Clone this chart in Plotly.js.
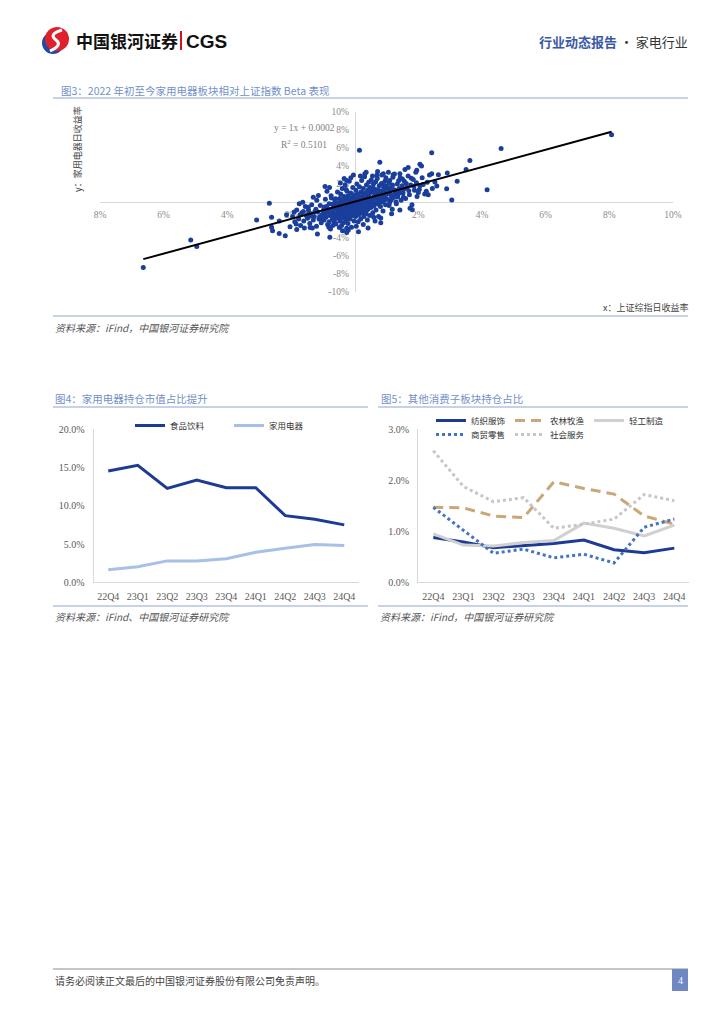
<!DOCTYPE html>
<html><head><meta charset="utf-8">
<script src="https://cdn.plot.ly/plotly-3.0.1.min.js"></script>
<style>html,body{margin:0;padding:0;background:#fff;}#page{width:724px;height:1024px;}</style>
</head><body><div id="page"></div>
<script>
// ---------- Figure 3: daily returns (percent) ----------
const dailyPairs = [
 [-6.64,-7.28],[-5.15,-4.22],[-4.96,-4.94],[-2.68,-0.13],[-3.08,-2.0],[-2.61,-1.7],[-2.61,-2.8],[-2.58,-3.2],
 [-2.37,-3.5],[-2.18,-3.74],[-2.37,-2.1],[-2.14,-1.43],[-2.03,-2.74],[-1.82,-3.05],[-1.74,-0.2],[-1.63,-0.02],
 [-1.61,-1.05],[-1.46,-0.58],[-1.40,-2.82],[-1.17,-3.56],[-1.30,0.54],[-1.14,0.73],[-0.93,1.73],[-0.78,-3.93],
 [-0.48,-2.82],[-0.25,-2.92],[-0.15,-1.77],[0.15,5.75],[-0.04,3.0],[-0.25,2.4],[0.79,4.42],[0.32,3.15],
 [0.90,3.15],[1.21,3.04],[1.42,3.15],[8.07,7.47],[4.60,5.94],[2.42,5.48],[3.62,4.60],[2.05,4.2],
 [2.10,4.0],[1.68,3.82],[1.95,3.52],[2.42,3.15],[2.63,3.04],[2.91,3.22],[3.50,3.60],[3.22,2.31],
 [2.52,2.21],[2.58,1.77],[2.89,1.47],[2.31,0.80],[3.05,0.22],[4.16,1.36],[1.81,-0.85],[0.82,-1.77],
 [2.03,1.40],[1.53,0.54],[-0.25,-3.4],
 [-1.95,-1.6],[-1.88,-2.2],[-1.82,-0.9],[-1.76,-1.9],[-1.7,-2.6],[-1.66,-1.2],[-1.6,-2.1],[-1.55,-0.5],
 [-1.52,-1.5],[-1.9,-1.1],[-1.58,-2.9],[-1.72,-1.45],[-1.84,-2.45],
 [-1.48,-1.8],[-1.45,-0.9],[-1.41,-2.4],[-1.38,-1.3],[-1.35,-0.3],[-1.3,-2.0],[-1.27,-1.6],[-1.22,-0.8],
 [-1.2,-2.7],[-1.16,-1.1],[-1.12,-1.9],[-1.08,-0.4],[-1.05,-2.3],[-1.02,-1.4],[-1.44,-1.2],[-1.33,-2.9],
 [-1.19,0.2],[-1.1,-1.65],[-1.25,-1.05],[-1.4,-1.55],
 [-0.98,-0.9],[-0.96,-2.0],[-0.94,-1.3],[-0.92,0.3],[-0.9,-1.7],[-0.88,-0.5],[-0.85,-2.5],[-0.83,-1.1],
 [-0.8,-0.2],[-0.78,-1.5],[-0.76,-3.0],[-0.74,0.7],[-0.72,-0.8],[-0.7,-1.9],[-0.68,-1.2],[-0.66,-0.4],
 [-0.64,-2.2],[-0.62,0.1],[-0.6,-1.4],[-0.58,-0.7],[-0.56,-1.8],[-0.54,1.1],[-0.52,-1.0],[-0.87,1.2],
 [-0.81,-2.8],[-0.69,-2.6],[-0.63,-1.65],[-0.57,-0.15],[-0.95,-0.55],[-0.73,0.45],[-0.79,1.6],[-0.59,-2.45],
 [-0.91,-1.55],[-0.67,-0.95],
 [-0.49,-0.6],[-0.48,-1.5],[-0.47,0.4],[-0.46,-2.1],[-0.45,-1.0],[-0.44,0.9],[-0.43,-0.2],[-0.42,-1.8],
 [-0.41,-2.6],[-0.4,-0.8],[-0.39,1.5],[-0.38,-1.3],[-0.37,0.1],[-0.36,-0.5],[-0.35,-2.3],[-0.34,0.6],
 [-0.33,-1.1],[-0.32,-1.7],[-0.31,-0.3],[-0.3,1.9],[-0.29,-0.9],[-0.28,-2.0],[-0.27,0.3],[-0.26,-1.4],
 [-0.25,-0.7],[-0.24,1.2],[-0.23,-0.1],[-0.22,-1.6],[-0.21,-2.4],[-0.2,0.7],[-0.19,-0.4],[-0.18,-1.2],
 [-0.17,2.3],[-0.16,-0.8],[-0.15,-1.9],[-0.14,0.2],[-0.13,-0.6],[-0.12,1.0],[-0.11,-1.0],[-0.1,-2.8],
 [-0.09,-0.2],[-0.08,0.5],[-0.07,-1.5],[-0.06,1.6],[-0.05,-0.5],[-0.04,-1.2],[-0.03,0.0],[-0.02,-2.1],
 [-0.01,0.8],[-0.45,2.1],[-0.33,2.6],[-0.2,-3.1],[-0.38,-3.2],[-0.12,2.7],[-0.27,1.4],
 [0.01,-0.7],[0.02,0.4],[0.03,-1.6],[0.04,1.3],[0.05,-0.3],[0.06,-1.1],[0.07,2.0],[0.08,0.1],
 [0.09,-0.9],[0.1,0.9],[0.11,-2.2],[0.12,-0.4],[0.13,0.6],[0.14,-1.4],[0.15,1.7],[0.16,-0.1],
 [0.17,-0.8],[0.18,0.3],[0.19,-1.9],[0.2,1.1],[0.21,-0.5],[0.22,2.4],[0.23,0.0],[0.24,-1.2],
 [0.25,0.7],[0.26,-0.2],[0.27,1.5],[0.28,-0.9],[0.29,-1.6],[0.3,0.4],[0.31,2.8],[0.32,-0.6],
 [0.33,1.0],[0.34,-0.1],[0.35,-1.3],[0.36,0.8],[0.37,1.9],[0.38,-0.4],[0.39,0.2],[0.4,-2.0],
 [0.41,1.3],[0.42,-0.8],[0.43,0.5],[0.44,2.2],[0.45,-0.3],[0.46,0.9],[0.47,-1.5],[0.48,1.6],
 [0.49,0.0],[0.05,-2.7],[0.18,2.9],[0.27,-2.5],[0.36,3.3],[0.42,-2.9],[0.12,-3.3],
 [0.51,-0.6],[0.53,1.1],[0.55,0.3],[0.57,-1.2],[0.59,2.0],[0.61,0.6],[0.63,-0.2],[0.65,1.4],
 [0.67,-0.9],[0.69,0.9],[0.71,2.6],[0.73,0.1],[0.75,-1.6],[0.77,1.8],[0.79,0.4],[0.81,-0.5],
 [0.83,1.2],[0.85,3.0],[0.87,0.7],[0.89,-1.0],[0.91,1.6],[0.93,0.2],[0.95,2.3],[0.97,-0.3],
 [0.99,0.9],[0.56,2.9],[0.64,-2.1],[0.72,3.4],[0.82,-2.3],[0.9,2.0],[0.6,-1.7],[0.76,1.05],
 [0.86,0.0],[0.54,-0.05],[0.68,0.25],[0.94,1.3],
 [1.02,0.3],[1.05,1.5],[1.08,-0.4],[1.1,2.4],[1.13,0.8],[1.16,-1.3],[1.19,1.9],[1.22,0.5],
 [1.25,3.1],[1.28,1.1],[1.31,-0.2],[1.34,2.0],[1.37,0.9],[1.4,1.5],[1.43,2.7],[1.46,0.2],
 [1.49,1.8],[1.06,3.3],[1.18,-0.8],[1.3,0.0],[1.42,-0.9],[1.12,1.2],
 [1.52,1.0],[1.56,2.3],[1.6,0.4],[1.64,1.6],[1.68,2.9],[1.72,0.8],[1.76,1.9],[1.8,-0.3],
 [1.84,2.5],[1.88,1.3],[1.92,3.3],[1.96,0.6],[1.58,3.6],[1.74,-0.7],
 [2.05,1.8],[2.12,2.7],[2.2,0.9],[2.28,2.2],[2.35,3.0],[2.44,1.5],
 [-0.95,-1.15],[-0.85,-0.75],[-0.75,-1.35],[-0.65,-0.55],[-0.55,-1.25],[-0.5,-0.35],[-0.42,-1.05],[-0.35,-0.85],
 [-0.3,-1.45],[-0.22,-0.55],[-0.15,-1.05],[-0.08,-0.75],[-0.02,-1.35],[0.04,-0.45],[0.1,-1.25],[0.16,-0.55],
 [0.22,-0.95],[0.3,-0.25],[0.36,-1.05],[0.44,-0.55],[0.52,0.05],[0.6,-0.45],[0.66,0.45],[0.74,-0.25],
 [0.8,0.75],[0.88,0.35],[0.96,0.55],[1.04,0.95],[1.15,0.25],[1.24,1.35],[-0.6,0.35],[-0.45,0.05],
 [-0.3,0.55],[-0.15,0.35],[0.0,0.15],[0.15,0.55],[0.3,0.85],[0.45,0.35],[0.62,1.05],[0.78,0.05],
 [-0.7,-0.25],[-1.0,-1.85],[-0.8,-2.2],[1.35,0.55],[1.1,-0.05],
 [0.58,1.55],[0.66,2.25],[0.74,1.35],[0.84,2.05],[0.92,1.05],[1.0,1.75],[1.08,2.15],[1.14,1.65],
 [1.2,2.75],[1.26,0.85],[1.33,1.25],[1.38,2.35],[1.45,1.05],[1.5,2.55],[1.55,1.45],[1.62,2.05],
 [1.7,1.25],[1.78,2.65],[1.86,1.75],[1.94,2.15],[2.0,1.05],[2.15,1.95],[2.25,1.2],[0.52,2.45],
 [0.7,3.0],[0.98,2.7],[1.16,0.55],[0.46,1.25]
];
const shRet = dailyPairs.map(p=>p[0]);
const jdRet = dailyPairs.map(p=>p[1]);
const trendX = [-6.64, 8.07];
const trendY = [-6.35, 7.80];
const f3XTickVals = [-8,-6,-4,-2,0,2,4,6,8,10];
const f3XTickText = ['8%','6%','4%','2%','0%','2%','4%','6%','8%','10%'];
const f3YTickVals = [10,8,6,4,2,0,-2,-4,-6,-8,-10];
const f3YTickText = ['10%','8%','6%','4%','2%','0%','-2%','-4%','-6%','-8%','-10%'];

// ---------- Figure 4 / 5 ----------
const quarters = ['22Q4','23Q1','23Q2','23Q3','23Q4','24Q1','24Q2','24Q3','24Q4'];
const food      = [14.55,15.30,12.27,13.37,12.37,12.37,8.71,8.23,7.51];
const appliance = [1.65,2.04,2.80,2.80,3.08,3.92,4.44,4.95,4.82];
const textile   = [0.88,0.79,0.68,0.72,0.76,0.83,0.64,0.58,0.67];
const agri      = [1.47,1.46,1.30,1.27,1.97,1.84,1.73,1.30,1.14];
const lightInd  = [0.95,0.73,0.71,0.78,0.82,1.16,1.06,0.91,1.12];
const retail    = [1.47,1.02,0.57,0.65,0.48,0.55,0.38,1.08,1.24];
const social    = [2.58,1.88,1.58,1.66,1.06,1.14,1.24,1.72,1.60];
const f4YTicks = [0,5,10,15,20];
const f4YTickText = ['0.0%','5.0%','10.0%','15.0%','20.0%'];
const f5YTicks = [0,1,2,3];
const f5YTickText = ['0.0%','1.0%','2.0%','3.0%'];

const W=724,H=1024;
const X=p=>p/W, Y=p=>1-p/H;
const CJK='"Noto Sans CJK SC", sans-serif';
const SERIF='"Liberation Serif", "Noto Sans CJK SC", serif';
const DARK='#1d3b94';

const traces = [
 {type:'scatter',mode:'markers',x:shRet,y:jdRet,xaxis:'x',yaxis:'y',showlegend:false,
  marker:{size:5,color:'#1a3e9c'}},
 {type:'scatter',mode:'lines',x:trendX,y:trendY,xaxis:'x',yaxis:'y',showlegend:false,
  line:{color:'#000',width:2}},
 {type:'scatter',mode:'lines',name:'食品饮料',x:quarters,y:food,xaxis:'x2',yaxis:'y2',legend:'legend',
  line:{color:DARK,width:3}},
 {type:'scatter',mode:'lines',name:'家用电器',x:quarters,y:appliance,xaxis:'x2',yaxis:'y2',legend:'legend',
  line:{color:'#a8bfe8',width:3}},
 {type:'scatter',mode:'lines',name:'纺织服饰',x:quarters,y:textile,xaxis:'x3',yaxis:'y3',legend:'legend2',
  line:{color:DARK,width:3}},
 {type:'scatter',mode:'lines',name:'农林牧渔',x:quarters,y:agri,xaxis:'x3',yaxis:'y3',legend:'legend2',
  line:{color:'#c9a777',width:3,dash:'10px,6px'}},
 {type:'scatter',mode:'lines',name:'轻工制造',x:quarters,y:lightInd,xaxis:'x3',yaxis:'y3',legend:'legend2',
  line:{color:'#d0d0d0',width:3}},
 {type:'scatter',mode:'lines',name:'商贸零售',x:quarters,y:retail,xaxis:'x3',yaxis:'y3',legend:'legend3',
  line:{color:'#4472c4',width:3,dash:'dot'}},
 {type:'scatter',mode:'lines',name:'社会服务',x:quarters,y:social,xaxis:'x3',yaxis:'y3',legend:'legend3',
  line:{color:'#c6c6c6',width:3,dash:'dot'}}
];

const gray='#d9d9d9';
const tickFont={family:SERIF,size:10,color:'#595959'};
const legFont={family:CJK,size:8.5,color:'#333'};
const layout = {
 width:W,height:H,margin:{l:0,r:0,t:0,b:0},paper_bgcolor:'#fff',plot_bgcolor:'rgba(0,0,0,0)',
 font:{family:CJK},
 xaxis:{domain:[X(100),X(673)],range:[-8,10],anchor:'free',position:Y(202),showgrid:false,zeroline:false,
  showline:true,linecolor:gray,linewidth:1,ticks:'',tickvals:f3XTickVals,ticktext:f3XTickText,
  tickfont:{family:SERIF,size:9.5,color:'#8a8a8a'},layer:'below traces',ticklabelstandoff:4,fixedrange:true},
 yaxis:{domain:[Y(292),Y(112)],range:[-10,10],anchor:'free',position:X(354.7),showgrid:false,zeroline:false,
  showline:true,linecolor:gray,linewidth:1,ticks:'',tickvals:f3YTickVals,ticktext:f3YTickText,
  tickfont:{family:SERIF,size:9.5,color:'#8a8a8a'},layer:'below traces',ticklabelstandoff:4,fixedrange:true},
 xaxis2:{domain:[X(93.5),X(359)],range:[-0.5,8.5],type:'category',anchor:'y2',showgrid:false,zeroline:false,
  showline:true,linecolor:gray,ticks:'',tickfont:tickFont,ticklabelstandoff:5},
 yaxis2:{domain:[Y(582.3),Y(429.3)],range:[0,20],anchor:'x2',showgrid:false,zeroline:false,
  showline:true,linecolor:gray,ticks:'',tickvals:f4YTicks,ticktext:f4YTickText,tickfont:tickFont,ticklabelstandoff:6},
 xaxis3:{domain:[X(418.2),X(689.4)],range:[-0.5,8.5],type:'category',anchor:'y3',showgrid:false,zeroline:false,
  showline:true,linecolor:gray,ticks:'',tickfont:tickFont,ticklabelstandoff:5},
 yaxis3:{domain:[Y(582.3),Y(429.3)],range:[0,3],anchor:'x3',showgrid:false,zeroline:false,
  showline:true,linecolor:gray,ticks:'',tickvals:f5YTicks,ticktext:f5YTickText,tickfont:tickFont,ticklabelstandoff:6},
 legend:{orientation:'h',x:X(130),y:Y(411),xanchor:'left',yanchor:'top',entrywidth:54,bgcolor:'rgba(0,0,0,0)',
  font:legFont,itemclick:false},
 legend2:{orientation:'h',x:X(431),y:Y(406),xanchor:'left',yanchor:'top',entrywidth:34,bgcolor:'rgba(0,0,0,0)',
  font:legFont,itemclick:false},
 legend3:{orientation:'h',x:X(431),y:Y(420),xanchor:'left',yanchor:'top',entrywidth:34,bgcolor:'rgba(0,0,0,0)',
  font:legFont,itemclick:false},
 shapes:[],annotations:[]
};

function hline(x0,x1,y,color,w){layout.shapes.push({type:'line',xref:'paper',yref:'paper',x0:X(x0),x1:X(x1),y0:Y(y),y1:Y(y),line:{color:color,width:w}});}
function txt(t,x,y,opt){layout.annotations.push(Object.assign({text:t,xref:'paper',yref:'paper',x:X(x),y:Y(y),
  showarrow:false,xanchor:'left',yanchor:'middle',font:{family:CJK,size:10,color:'#333'}},opt||{}));}

// header logo
layout.shapes.push({type:'circle',xref:'paper',yref:'paper',x0:X(42),x1:X(64),y0:Y(54),y1:Y(32),fillcolor:'#1f4aa8',line:{width:0}});
layout.shapes.push({type:'circle',xref:'paper',yref:'paper',x0:X(45),x1:X(69),y0:Y(51),y1:Y(27),fillcolor:'#e0202a',line:{width:0}});
layout.shapes.push({type:'path',xref:'paper',yref:'paper',
  path:`M${X(62)},${Y(30)} Q${X(48)},${Y(34)} ${X(56)},${Y(40)} Q${X(63)},${Y(45)} ${X(50)},${Y(51)}`,
  line:{color:'#fff',width:3}});
txt('<b>中国银河证券</b>',74,40,{font:{family:CJK,size:17,color:'#111'}});
layout.shapes.push({type:'line',xref:'paper',yref:'paper',x0:X(181),x1:X(181),y0:Y(31),y1:Y(50),line:{color:'#d6111b',width:2}});
txt('<b>CGS</b>',184,41,{font:{family:'"Liberation Sans", Arial, sans-serif',size:19,color:'#111'}});
txt('<span style="color:#3a5aa6"><b>行业动态报告</b></span> · 家电行业',690,41,{xanchor:'right',font:{family:CJK,size:13,color:'#333'}});

// figure 3 frame
txt('图3：2022 年初至今家用电器板块相对上证指数 Beta 表现',59,90,{font:{family:CJK,size:10.5,color:'#7390c8'}});
hline(53,688,98,'#8fa5d2',1.2);
txt('y = 1x + 0.0002',272,128,{font:{family:SERIF,size:9.5,color:'#7f7f7f'}});
txt('R<sup>2</sup> = 0.5101',279,144,{font:{family:SERIF,size:9.5,color:'#7f7f7f'}});
txt('y：家用电器日收益率',77,149,{xanchor:'center',textangle:-90,font:{family:CJK,size:9,color:'#444'}});
txt('x：上证综指日收益率',690,307,{xanchor:'right',font:{family:CJK,size:9,color:'#444'}});
hline(53,688,316,'#8fa5d2',1.2);
txt('<i>资料来源：iFind，中国银河证券研究院</i>',53,327,{font:{family:CJK,size:10,color:'#555'}});

// figure 4 / 5 frames
txt('图4：家用电器持仓市值占比提升',53,398,{font:{family:CJK,size:10.5,color:'#7390c8'}});
hline(53,368,407,'#8fa5d2',1.2);
hline(53,368,606,'#8fa5d2',1.2);
txt('<i>资料来源：iFind、中国银河证券研究院</i>',53,616,{font:{family:CJK,size:10,color:'#555'}});
txt('图5：其他消费子板块持仓占比',379,398,{font:{family:CJK,size:10.5,color:'#7390c8'}});
hline(378,688,407,'#8fa5d2',1.2);
hline(378,688,606,'#8fa5d2',1.2);
txt('<i>资料来源：iFind，中国银河证券研究院</i>',378,616,{font:{family:CJK,size:10,color:'#555'}});

// footer
hline(53,688,969,'#8c8c8c',1);
txt('请务必阅读正文最后的中国银河证券股份有限公司免责声明。',53,980,{font:{family:CJK,size:10,color:'#444'}});
layout.shapes.push({type:'rect',xref:'paper',yref:'paper',x0:X(672),x1:X(688),y0:Y(991),y1:Y(969),fillcolor:'#6f88c4',line:{width:0}});
txt('4',680,980,{xanchor:'center',font:{family:SERIF,size:10,color:'#fff'}});

Plotly.newPlot('page',traces,layout,{displayModeBar:false,staticPlot:true});
</script></body></html>
